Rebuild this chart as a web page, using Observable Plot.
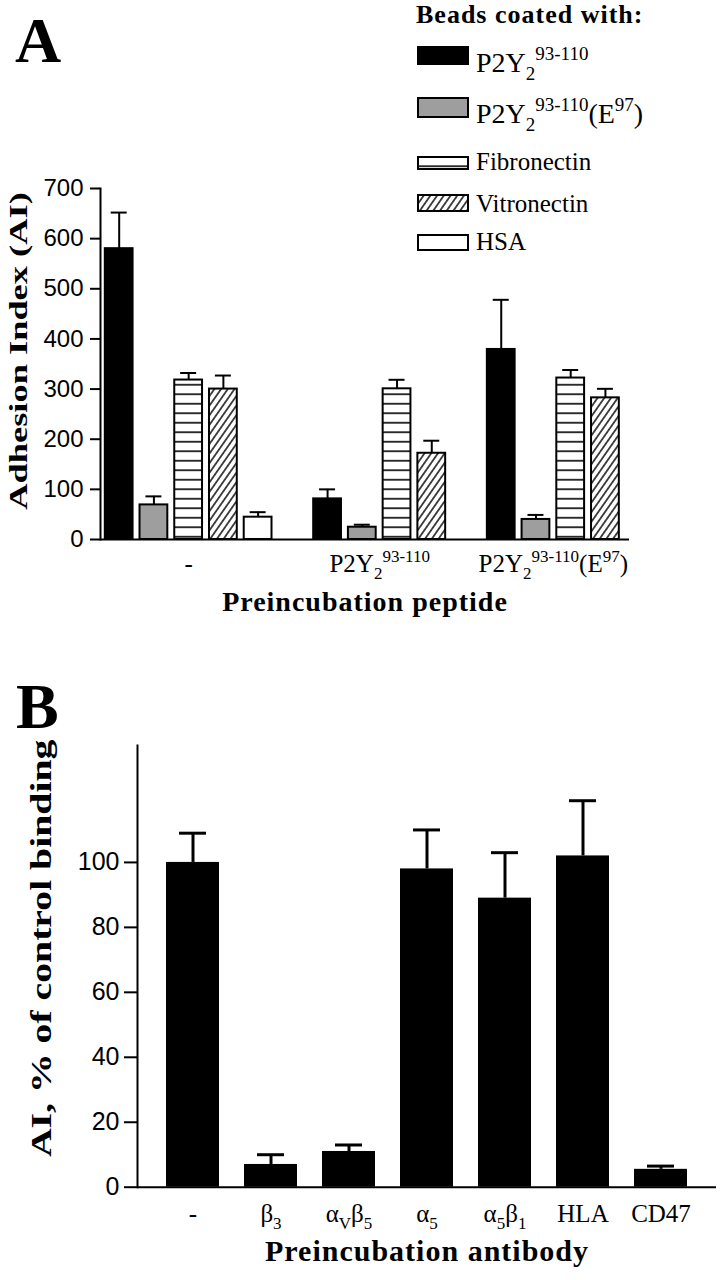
<!DOCTYPE html>
<html>
<head>
<meta charset="utf-8">
<script src="https://cdn.jsdelivr.net/npm/d3@7"></script>
<script src="https://cdn.jsdelivr.net/npm/@observablehq/plot@0.6"></script>
<style>
  html, body { margin: 0; padding: 0; background: #fff; color: #000; }
  #page { position: relative; width: 720px; height: 1280px; overflow: hidden; }
  #panelA, #panelB { position: absolute; left: 0; width: 720px; height: 640px; }
  #panelA { top: 0; }
  #panelB { top: 640px; }
</style>
</head>
<body>
<svg width="0" height="0" style="position:absolute">
  <defs>
    <pattern id="hatchH" patternUnits="userSpaceOnUse" width="10" height="9.5">
      <rect width="10" height="9.5" fill="#fff"/>
      <line x1="0" y1="4.75" x2="10" y2="4.75" stroke="#000" stroke-width="1.6"/>
    </pattern>
    <pattern id="hatchD" patternUnits="userSpaceOnUse" width="5.5" height="10" patternTransform="rotate(35)">
      <rect width="5.5" height="10" fill="#fff"/>
      <line x1="2.75" y1="0" x2="2.75" y2="10" stroke="#000" stroke-width="1.4"/>
    </pattern>
  </defs>
</svg>
<div id="page">
  <div id="panelA"></div>
  <div id="panelB"></div>
</div>
<script>
// ---------------- Data: panel A ----------------
const groupsA = ["-", "P2Y_{2}^{93-110}", "P2Y_{2}^{93-110}(E^{97})"];
const seriesA = ["P2Y_{2}^{93-110}", "P2Y_{2}^{93-110}(E^{97})", "Fibronectin", "Vitronectin", "HSA"];
const meanNone = [580, 69, 318, 300, 44.5];
const errNone  = [72, 17, 14, 27, 10];
const meanP2Y  = [81, 24.5, 300.5, 172, null];
const errP2Y   = [19, 5, 18, 25, null];
const meanE97  = [379, 40, 322, 282.5, null];
const errE97   = [99, 9, 16, 18, null];
const yTicksA  = [0, 100, 200, 300, 400, 500, 600, 700];

// ---------------- Data: panel B ----------------
const antibodies = ["-", "β_{3}", "α_{V}β_{5}", "α_{5}", "α_{5}β_{1}", "HLA", "CD47"];
const meanB = [100, 7, 11, 98, 89, 102, 5.5];
const errB  = [9, 3, 2, 12, 14, 17, 1];
const yTicksB = [0, 20, 40, 60, 80, 100];

// ---------------- Styles ----------------
const fillsA = ["#000000", "#9e9e9e", "url(#hatchH)", "url(#hatchD)", "#ffffff"];
const SERIF = "'Liberation Serif', 'Times New Roman', serif";
const SANS = "'Liberation Sans', Arial, sans-serif";
const svgNS = "http://www.w3.org/2000/svg";

// Build rows for panel A (bars laid out in slots, one empty slot between groups)
const meansA = [meanNone, meanP2Y, meanE97];
const errsA = [errNone, errP2Y, errE97];
const rowsA = [];
const groupCenters = [];
let slot = 0;
groupsA.forEach((g, gi) => {
  const slots = [];
  seriesA.forEach((s, si) => {
    const v = meansA[gi][si];
    if (v == null) return;
    rowsA.push({group: g, series: s, slot, value: v, err: errsA[gi][si]});
    slots.push(slot);
    slot++;
  });
  groupCenters.push({label: g, center: d3.mean(slots)});
  slot++;
});

const rowsB = antibodies.map((a, i) => ({ab: a, value: meanB[i], err: errB[i]}));

// rich text: _{sub} and ^{sup}
function richify(el, size) {
  const s = el.textContent;
  if (!/[_^]\{/.test(s)) return;
  const small = Math.round(size * 0.68);
  while (el.firstChild) el.removeChild(el.firstChild);
  const re = /([_^])\{([^}]*)\}|([^_^]+)/g;
  let m, shift = 0;
  while ((m = re.exec(s))) {
    const t = document.createElementNS(svgNS, "tspan");
    let target, txt, fs;
    if (m[1]) { target = m[1] === "_" ? 0.28 * size : -0.42 * size; txt = m[2]; fs = small; }
    else { target = 0; txt = m[3]; fs = size; }
    t.setAttribute("dy", (target - shift).toFixed(2));
    shift = target;
    t.setAttribute("font-size", fs);
    t.textContent = txt;
    el.appendChild(t);
  }
}

function findText(svg, str) {
  return Array.from(svg.querySelectorAll("text")).filter(t => t.textContent === str);
}

// ---------------- Panel A ----------------
const titleA = "Preincubation peptide";
const ylabelA = "Adhesion Index (AI)";
const plotA = Plot.plot({
  width: 720, height: 640,
  marginLeft: 100, marginRight: 91, marginTop: 188, marginBottom: 101,
  style: {background: "transparent", color: "#000", overflow: "visible"},
  x: {domain: [-0.538, 14.693], axis: null},
  y: {domain: [0, 700]},
  color: {domain: seriesA, range: fillsA},
  marks: [
    Plot.rectY(rowsA, {x1: d => d.slot - 0.4, x2: d => d.slot + 0.4, y1: d => 0, y2: "value", fill: "series", stroke: "#000", strokeWidth: 2}),
    Plot.ruleX(rowsA, {x: "slot", y1: "value", y2: d => d.value + d.err, strokeWidth: 2}),
    Plot.ruleY(rowsA, {y: d => d.value + d.err, x1: d => d.slot - 0.23, x2: d => d.slot + 0.23, strokeWidth: 2}),
    Plot.ruleY([0], {strokeWidth: 2}),
    Plot.frame({anchor: "left", strokeWidth: 2}),
    Plot.axisY({ticks: yTicksA, tickSize: 10, tickPadding: 7, fontSize: 24, fontFamily: SANS, label: null, strokeWidth: 2}),
    Plot.text(groupCenters, {x: "center", text: "label", frameAnchor: "bottom", textAnchor: "middle", lineAnchor: "top", dy: 15, fontSize: 25, fontFamily: SERIF}),
    Plot.text([titleA], {text: d => d, frameAnchor: "bottom", textAnchor: "middle", lineAnchor: "middle", dy: 63, fontSize: 28, fontWeight: "bold", fontFamily: SERIF}),
    Plot.text([ylabelA], {text: d => d, frameAnchor: "left", textAnchor: "middle", lineAnchor: "middle", dx: -81.5, dy: -13, rotate: -90, fontSize: 26, fontWeight: "bold", fontFamily: SERIF})
  ]
});
document.getElementById("panelA").appendChild(plotA);

// ---------------- Panel B ----------------
const titleB = "Preincubation antibody";
const ylabelB = "AI, % of control binding";
const plotB = Plot.plot({
  width: 720, height: 640,
  marginLeft: 137, marginRight: 4, marginTop: 105, marginBottom: 93.3,
  style: {background: "transparent", color: "#000", overflow: "visible"},
  x: {domain: antibodies, paddingInner: 0.316, paddingOuter: 0.339},
  y: {domain: [0, 136]},
  marks: [
    Plot.barY(rowsB, {x: "ab", y1: d => 0, y2: "value", fill: "#000"}),
    Plot.ruleX(rowsB, {x: "ab", y1: "value", y2: d => d.value + d.err, strokeWidth: 3}),
    Plot.tickY(rowsB, {x: "ab", y: d => d.value + d.err, insetLeft: 13, insetRight: 13, strokeWidth: 3}),
    Plot.ruleY([0], {strokeWidth: 2}),
    Plot.frame({anchor: "left", strokeWidth: 2}),
    Plot.axisY({ticks: yTicksB, tickSize: 13, tickPadding: 5, fontSize: 25, fontFamily: SANS, label: null, strokeWidth: 2}),
    Plot.axisX({tickSize: 0, tickPadding: 17, fontSize: 25, fontFamily: SERIF, label: null}),
    Plot.text([titleB], {text: d => d, frameAnchor: "bottom", textAnchor: "middle", lineAnchor: "middle", dy: 64, fontSize: 30, fontWeight: "bold", fontFamily: SERIF}),
    Plot.text([ylabelB], {text: d => d, frameAnchor: "left", textAnchor: "middle", lineAnchor: "middle", dx: -95.5, dy: -18, rotate: -90, fontSize: 29, fontWeight: "bold", fontFamily: SERIF})
  ]
});
document.getElementById("panelB").appendChild(plotB);

// ---------------- Post-processing ----------------
Array.from(plotA.querySelectorAll("text")).forEach(t => richify(t, 25));
Array.from(plotB.querySelectorAll("text")).forEach(t => richify(t, 25));
findText(plotA, ylabelA).forEach(t => t.setAttribute("transform", (t.getAttribute("transform") || "") + " scale(1.4,1)"));
findText(plotB, ylabelB).forEach(t => t.setAttribute("transform", (t.getAttribute("transform") || "") + " scale(1.37,1)"));
findText(plotA, titleA).forEach(t => t.style.letterSpacing = "1px");
findText(plotB, titleB).forEach(t => t.style.letterSpacing = "1px");

// Panel letters & legend (start-anchored text)
function addText(svg, x, y, str, size, weight, family) {
  const t = document.createElementNS(svgNS, "text");
  t.setAttribute("x", x); t.setAttribute("y", y);
  t.setAttribute("text-anchor", "start");
  t.setAttribute("font-size", size); t.setAttribute("font-weight", weight);
  t.setAttribute("font-family", family); t.setAttribute("fill", "#000");
  t.textContent = str;
  svg.appendChild(t);
  return t;
}
addText(plotA, 15, 62, "A", 64, "bold", SERIF);
addText(plotB, 16, 88, "B", 64, "bold", SERIF);

addText(plotA, 416, 23, "Beads coated with:", 26, "bold", SERIF).style.letterSpacing = "1px";
const swatchY = [[47, 64], [98, 117], [157, 169], [195, 211], [235, 250]];
const legendBase = [72, 123, 170, 212, 250];
seriesA.forEach((s, i) => {
  const r = document.createElementNS(svgNS, "rect");
  r.setAttribute("x", 418); r.setAttribute("y", swatchY[i][0]);
  r.setAttribute("width", 50); r.setAttribute("height", swatchY[i][1] - swatchY[i][0]);
  r.setAttribute("fill", fillsA[i]); r.setAttribute("stroke", "#000"); r.setAttribute("stroke-width", 2);
  plotA.appendChild(r);
  const size = i < 2 ? 28 : 25;
  const t = addText(plotA, 476, legendBase[i], s, size, "normal", SERIF);
  richify(t, size);
});
</script>
</body>
</html>
